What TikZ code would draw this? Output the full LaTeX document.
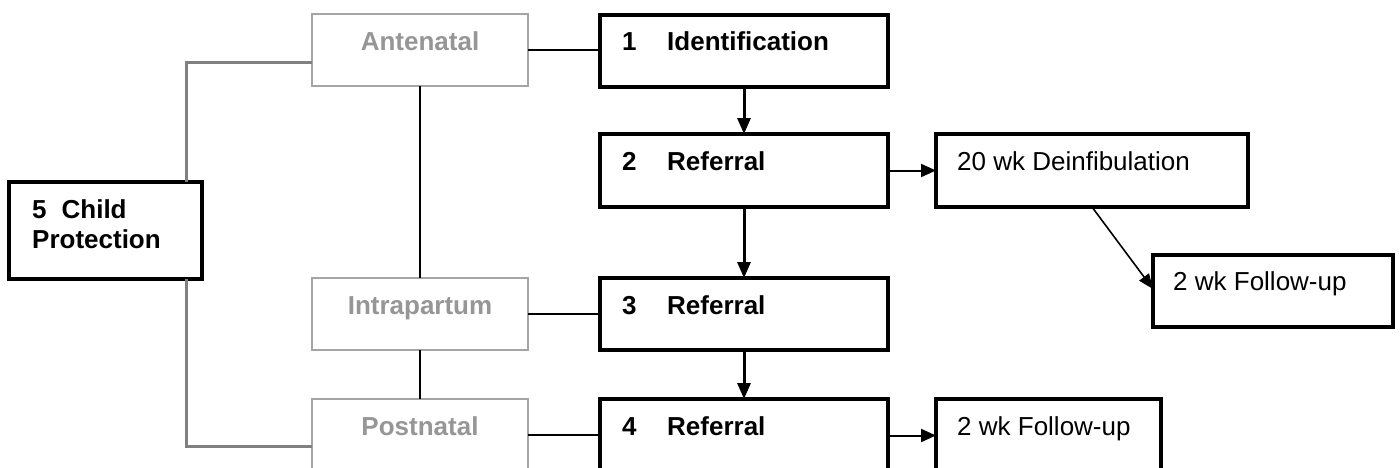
\documentclass[tikz,border=0pt]{standalone}
\usepackage{fontspec}
\setmainfont{Liberation Sans}
\usetikzlibrary{arrows.meta,calc}
\definecolor{greytext}{RGB}{150,150,150}
\definecolor{greybox}{RGB}{165,165,165}
\definecolor{greyline}{RGB}{128,128,128}
\newcommand{\fsz}{\fontsize{26}{30}\selectfont}
\begin{document}
\begin{tikzpicture}[x=1pt,y=-1pt,
  thickbox/.style={draw=black,line width=4pt,inner sep=0pt,outer sep=0pt,anchor=north west},
  greyrect/.style={draw=greybox,line width=1.8pt,inner sep=0pt,outer sep=0pt,anchor=north west,minimum width=216,minimum height=72},
  boldlbl/.style={anchor=base west,inner sep=0pt,font=\fsz\bfseries},
  plainlbl/.style={anchor=base west,inner sep=0pt,font=\fsz},
  greylbl/.style={anchor=base,inner sep=0pt,font=\fsz\bfseries,text=greytext},
  thinline/.style={draw=black,line width=1.7pt},
  greyconn/.style={draw=greyline,line width=3pt},
  varrow/.style={draw=black,line width=3pt,-{Triangle[length=16pt,width=13pt]}},
  harrow/.style={draw=black,line width=2pt,-{Triangle[length=15pt,width=13pt]}},
  darrow/.style={draw=black,line width=1.6pt,-{Triangle[length=15pt,width=12pt]}}
]
\clip (0,0) rectangle (1400,467);
\fill[white] (0,0) rectangle (1400,467);

% grey phase boxes
\node[greyrect] (ante) at (312,14) {};
\node[greyrect] (intra) at (312,278) {};
\node[greyrect] (post) at (312,399) {};
\node[greylbl] (tante) at ($(ante.north)+(0,36)$) {Antenatal};
\node[greylbl] (tintra) at ($(intra.north)+(0,36)$) {Intrapartum};
\node[greylbl] (tpost) at ($(post.north)+(0,36)$) {Postnatal};

% child protection
\node[thickbox,minimum width=193,minimum height=97] (child) at (9,182) {};
\node[boldlbl] (tchild1) at ($(child.north west)+(23,36)$) {5\hspace{15pt}Child};
\node[boldlbl] (tchild2) at ($(child.north west)+(23,66)$) {Protection};

% numbered steps
\node[thickbox,minimum width=288,minimum height=72] (b1) at (600,15) {};
\node[thickbox,minimum width=288,minimum height=73] (b2) at (600,134) {};
\node[thickbox,minimum width=288,minimum height=72] (b3) at (600,278) {};
\node[thickbox,minimum width=288,minimum height=73] (b4) at (600,399) {};
\node[boldlbl] (t1) at ($(b1.north west)+(22,35)$) {\makebox[45pt][l]{1}Identification};
\node[boldlbl] (t2) at ($(b2.north west)+(22,36)$) {\makebox[45pt][l]{2}Referral};
\node[boldlbl] (t3) at ($(b3.north west)+(22,36)$) {\makebox[45pt][l]{3}Referral};
\node[boldlbl] (t4) at ($(b4.north west)+(22,36)$) {\makebox[45pt][l]{4}Referral};

% outcome boxes
\node[thickbox,minimum width=312,minimum height=73] (deinf) at (936,134) {};
\node[thickbox,minimum width=240,minimum height=72] (fu1) at (1153,255) {};
\node[thickbox,minimum width=225,minimum height=73] (fu2) at (936,399) {};
\node[plainlbl] (tdeinf) at ($(deinf.north west)+(21,36)$) {20 wk Deinfibulation};
\node[plainlbl] (tfu1) at ($(fu1.north west)+(20,35)$) {2 wk Follow-up};
\node[plainlbl] (tfu2) at ($(fu2.north west)+(21,36)$) {2 wk Follow-up};

% grey connectors to child protection
\coordinate (g1) at (186,62);
\coordinate (g2) at (186,446);
\draw[greyconn] (g1 -| ante.west) -- (g1) -- (g1 |- child.north);
\draw[greyconn] (g2 |- child.south) -- (g2) -- (g2 -| post.west);

% thin black connectors
\draw[thinline] (ante.south) -- (intra.north);
\draw[thinline] (intra.south) -- (post.north);
\draw[thinline] (ante.east) -- (ante.east -| b1.west);
\draw[thinline] (intra.east) -- (intra.east -| b3.west);
\draw[thinline] (post.east) -- (post.east -| b4.west);

% arrows
\draw[varrow] (b1.south) -- (b2.north);
\draw[varrow] (b2.south) -- (b3.north);
\draw[varrow] (b3.south) -- (b4.north);
\draw[harrow] (b2.east) -- (deinf.west);
\draw[harrow] (b4.east) -- (b4.east -| fu2.west);
\draw[darrow] ($(deinf.south west)+(156,0)$) -- ($(fu1.west)+(0,-2)$);
\end{tikzpicture}
\end{document}
